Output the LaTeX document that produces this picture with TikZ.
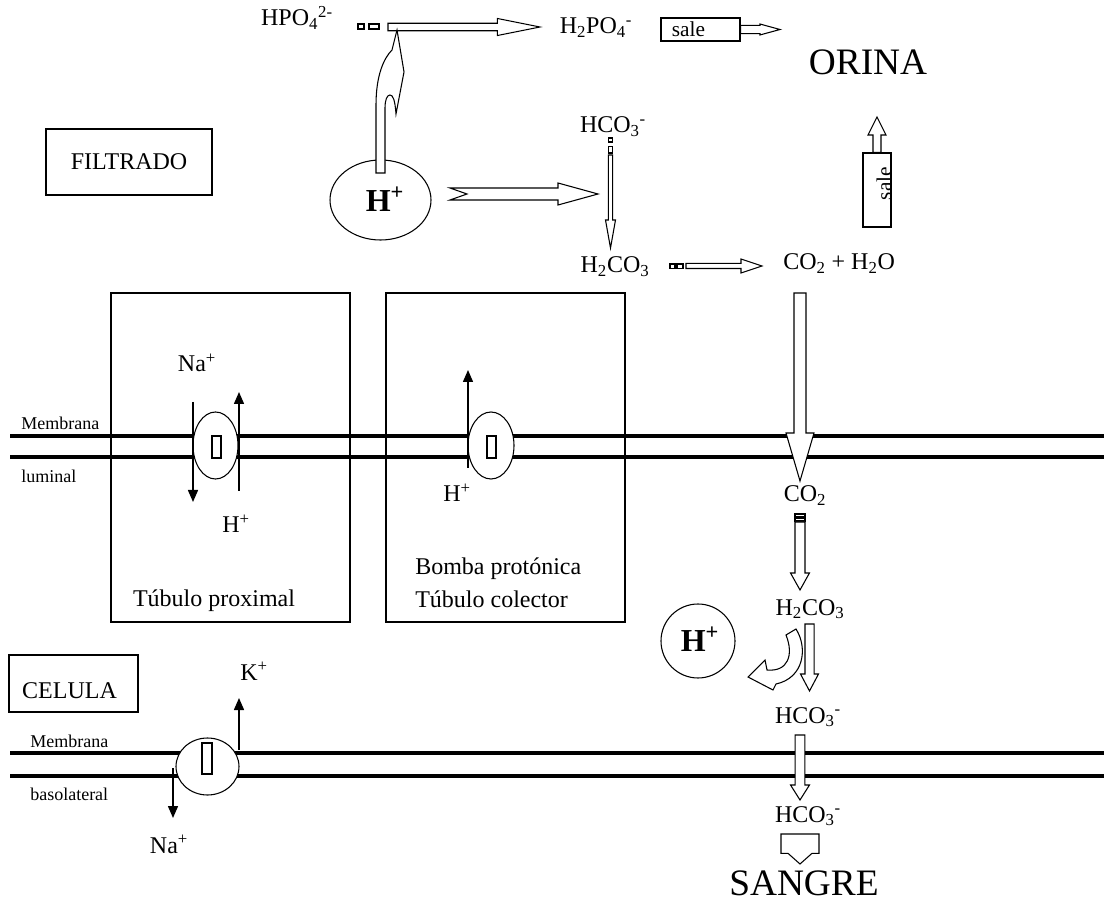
\documentclass[tikz,border=0pt]{standalone}
\usepackage{fontspec}
\setmainfont{Liberation Serif}
\usetikzlibrary{arrows.meta,calc,shapes.geometric}
\newcommand\chsub[1]{\textsubscript{#1}}
\newcommand\chsup[1]{\textsuperscript{#1}}
\newcommand\blkdown[5]{\draw[blk] let \p1=(#1), \p2=(#2) in
  (\x2-#3,\y1) -- (\x2-#3,\y2+#5) -- (\x2-#4,\y2+#5) -- (\p2) -- (\x2+#4,\y2+#5) -- (\x2+#3,\y2+#5) -- (\x2+#3,\y1) -- cycle;}
\newcommand\blkup[5]{\draw[blk] let \p1=(#1), \p2=(#2) in
  (\x2-#3,\y1) -- (\x2-#3,\y2-#5) -- (\x2-#4,\y2-#5) -- (\p2) -- (\x2+#4,\y2-#5) -- (\x2+#3,\y2-#5) -- (\x2+#3,\y1) -- cycle;}
\newcommand\blkright[5]{\draw[blk] let \p1=(#1), \p2=(#2) in
  (\x1,\y2-#3) -- (\x2-#5,\y2-#3) -- (\x2-#5,\y2-#4) -- (\p2) -- (\x2-#5,\y2+#4) -- (\x2-#5,\y2+#3) -- (\x1,\y2+#3) -- cycle;}

\begin{document}
\begin{tikzpicture}[x=0.75pt,y=-0.75pt,
  memb/.style={line width=3pt},
  tbox/.style={draw, line width=1.1pt},
  blk/.style={draw, fill=white, line width=0.8pt},
  tarr/.style={line width=1.1pt, -{Triangle[length=9pt,width=7.5pt]}},
  lbl/.style={inner sep=0pt, anchor=base, font=\fontsize{18}{20}\selectfont},
  mlbl/.style={inner sep=0pt, anchor=base west, font=\fontsize{13.5}{15}\selectfont},
  big/.style={inner sep=0pt, anchor=base, font=\fontsize{28}{30}\selectfont},
  hbold/.style={inner sep=0pt, anchor=base, font=\fontsize{24}{26}\selectfont\bfseries},
  pore/.style={ellipse, draw, fill=white, line width=0.8pt, inner sep=0pt}]
\useasboundingbox (0,0) rectangle (1104,905);

\draw[tbox] (111,293) rectangle (350,622);
\draw[tbox] (386,293) rectangle (625,622);
\node[tbox, minimum width=124.5pt, minimum height=49.5pt, font=\fontsize{18}{20}\selectfont] (filtrado) at (129,162) {FILTRADO};
\node[tbox, minimum width=96.75pt, minimum height=42.75pt] (celbox) at (73.5,683.5) {};
\node[lbl] (celula) at (69.5,698) {CELULA};

\foreach \y in {436,457,753,776} \draw[memb] (10,\y) -- (1104,\y);

\node[pore, minimum width=33.75pt, minimum height=50.25pt] (tr1) at (215.5,445.5) {};
\draw[line width=0.8pt] (212,436) rectangle (221,458);
\node[pore, minimum width=34.5pt, minimum height=50.25pt] (tr2) at (491,445.5) {};
\draw[line width=0.8pt] (487,436) rectangle (496,458);
\node[pore, minimum width=47.25pt, minimum height=42.75pt] (tr3) at (207.5,766.5) {};
\draw[line width=0.8pt] (202,743) rectangle (212,774);

\coordinate (na1) at (193,402); \coordinate (na1t) at (193,502);
\coordinate (h1) at (239,491); \coordinate (h1t) at (239,392);
\coordinate (h2) at (468,468); \coordinate (h2t) at (468,370);
\coordinate (k3) at (239,750); \coordinate (k3t) at (239,698);
\coordinate (na3) at (173,768); \coordinate (na3t) at (173,818);
\draw[tarr] (na1) -- (na1t);
\draw[tarr] (h1) -- (h1t);
\draw[tarr] (h2) -- (h2t);
\draw[tarr] (k3) -- (k3t);
\draw[tarr] (na3) -- (na3t);

\node[lbl] (na1lbl) at (197,372) {Na\chsup{+}};
\node[lbl] (h1lbl) at (236,533) {H\chsup{+}};
\node[lbl] (proximal) at (214,607) {Túbulo proximal};
\node[lbl] (h2lbl) at (457,502) {H\chsup{+}};
\node[lbl, anchor=base west] (bomba) at (415,575) {Bomba protónica};
\node[lbl, anchor=base west] (colector) at (415,608) {Túbulo colector};
\node[lbl] (klbl) at (254,680) {K\chsup{+}};
\node[lbl] (na3lbl) at (169,853) {Na\chsup{+}};
\node[mlbl] (memlum) at (21,430) {Membrana};
\node[mlbl] (luminal) at (21,483) {luminal};
\node[mlbl] (membas) at (30,747) {Membrana};
\node[mlbl] (basolat) at (30,800) {basolateral};

\node[pore, minimum width=75.75pt, minimum height=60pt] (hion) at (380.5,200) {};
\node[hbold] (htop) at (385,212) {H\chsup{+}};
\node[lbl] (hpo) at (297,26) {HPO\chsub{4}\chsup{2-}};
\node[lbl] (hdpo) at (596,34) {H\chsub{2}PO\chsub{4}\chsup{-}};
\node[big] (orina) at (868,75) {ORINA};
\node[lbl] (hco3a) at (613,133) {HCO\chsub{3}\chsup{-}};
\node[lbl] (hhco3a) at (615,273) {H\chsub{2}CO\chsub{3}};
\node[lbl, anchor=base west] (co2h2o) at (783,270) {CO\chsub{2} + H\chsub{2}O};

\draw[blk] (358,24) rectangle (364,29);
\draw[blk] (369,24) rectangle (379,29);
\coordinate (phtail) at (388,27); \coordinate (phtip) at (540,27);
\blkright{phtail}{phtip}{2.8pt}{6.4pt}{32pt}
\draw[blk] (376,173) -- (376,105) .. controls (376,75) and (384,58) .. (392,50) -- (397,30) -- (404,72) -- (396,114) .. controls (395,100) and (393,95) .. (390,95) .. controls (387,95) and (385,100) .. (385,108) -- (385,173) -- cycle;

\node[draw, line width=1pt, minimum width=59.25pt, minimum height=17.25pt, text width=43pt, align=left, inner xsep=8pt, inner ysep=0pt, font=\fontsize{16}{18}\selectfont] (sale1) at (700.5,29.5) {sale};
\coordinate (sale1t) at (780,29.5);
\blkright{sale1.east}{sale1t}{3.15pt}{4.1pt}{15pt}
\node[draw, line width=1pt, minimum width=21pt, minimum height=55.5pt, inner sep=0pt] (sale2) at (877,190) {};
\node[rotate=90, inner sep=0pt, font=\fontsize{16}{18}\selectfont] (salev) at (884,183.5) {sale};
\coordinate (sale2t) at (877,117);
\blkup{sale2.north}{sale2t}{3pt}{6.75pt}{13.5pt}

\coordinate (hbtail) at (450,194); \coordinate (hbtip) at (598,194);
\draw[blk] let \p1=(hbtail), \p2=(hbtip) in (\x1,\y2+4.5pt) -- (\x2-30pt,\y2+4.5pt) -- (\x2-30pt,\y2+8.25pt) -- (\p2) -- (\x2-30pt,\y2-8.25pt) -- (\x2-30pt,\y2-4.5pt) -- (\x1,\y2-4.5pt) -- (\x1+12.75pt,\y2) -- cycle;

\draw[blk] (608.5,138) rectangle (612.5,142);
\draw[blk] (608.5,146.5) rectangle (612.5,153);
\coordinate (bctail) at (610.5,155); \coordinate (bctip) at (610.5,248);
\blkdown{bctail}{bctip}{1.65pt}{3.75pt}{21pt}

\draw[blk] (670,264) rectangle (675,268.5);
\draw[blk] (677,264) rectangle (683,268.5);
\coordinate (cotail) at (686,266); \coordinate (cotip) at (762,266);
\blkright{cotail}{cotip}{1.9pt}{5.25pt}{15.75pt}

\coordinate (dtail) at (800,293); \coordinate (dtip) at (800,481);
\blkdown{dtail}{dtip}{4.5pt}{10.5pt}{36pt}

\node[lbl] (co2c) at (805,502) {CO\chsub{2}};
\node[lbl] (hhco3c) at (810,615) {H\chsub{2}CO\chsub{3}};
\node[lbl] (hco3c) at (808,723) {HCO\chsub{3}\chsup{-}};
\node[lbl] (hco3s) at (808,822) {HCO\chsub{3}\chsup{-}};
\node[big] (sangre) at (804,895) {SANGRE};
\node[pore, circle, minimum size=55.5pt] (hcirc) at (698,641) {};
\node[hbold] (hcell) at (700,652) {H\chsup{+}};

\draw[blk] (795,514) rectangle (805,516.5);
\draw[blk] (795,518) rectangle (805,521);
\coordinate (etail) at (800,522); \coordinate (etip) at (800,590);
\blkdown{etail}{etip}{3.75pt}{7.1pt}{12.75pt}

\draw[blk] (796,629) .. controls (808,648) and (804,678) .. (776,684) -- (773,690) -- (748,677) -- (765,660) -- (767,670) .. controls (788,672) and (794,655) .. (786,635) -- cycle;
\coordinate (ftail) at (809.5,624); \coordinate (ftip) at (809.5,691);
\blkdown{ftail}{ftip}{3.4pt}{6.75pt}{12.75pt}

\coordinate (gtail) at (800,735); \coordinate (gtip) at (800,800);
\blkdown{gtail}{gtip}{3.6pt}{7.1pt}{11.25pt}

\coordinate (stail) at (800,834); \coordinate (stip) at (800,864);
\blkdown{stail}{stip}{14.25pt}{9pt}{8pt}
\end{tikzpicture}
\end{document}
